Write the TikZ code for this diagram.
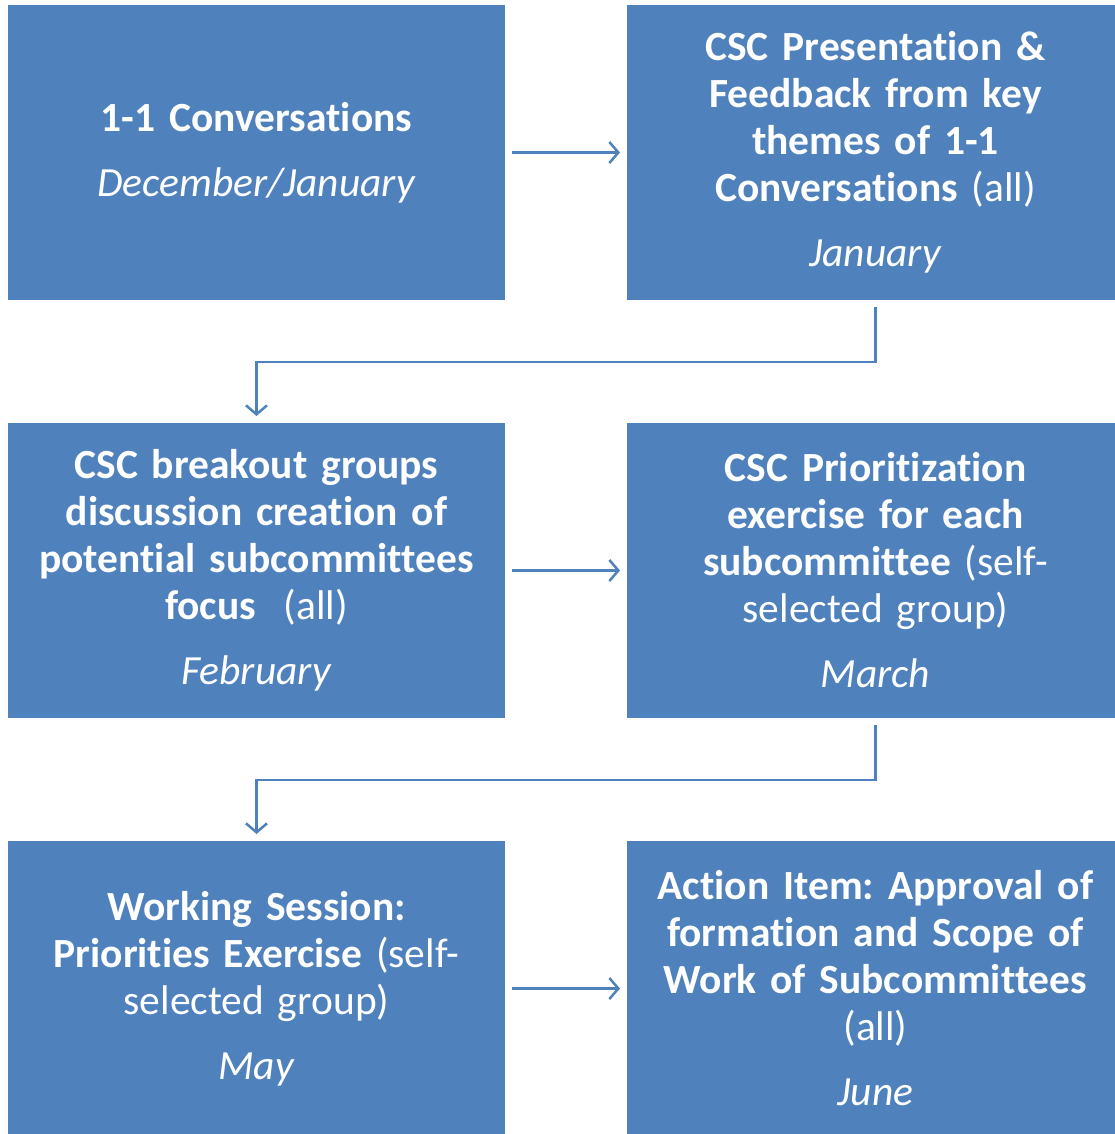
\documentclass[tikz,border=0pt]{standalone}
\usepackage{fontspec}
\setmainfont{Carlito}[Ligatures=NoCommon]
\usepackage{tikz}
\usetikzlibrary{positioning,arrows.meta}
\frenchspacing

\definecolor{boxblue}{HTML}{4F81BD}

\tikzset{
  stagebox/.style={fill=boxblue, text=white, minimum width=497pt, minimum height=295pt,
    text width=490pt, align=center, inner sep=0pt, outer sep=7pt,
    font=\fontsize{41.5}{47}\selectfont},
  flow/.style={draw=boxblue, line width=2.5pt, -{Straight Barb[length=9pt,width=21pt]}}
}

\begin{document}
\begin{tikzpicture}
      \useasboundingbox (0,0) rectangle (1115pt,-1134pt);

      \node[stagebox] (1) at (256.5pt,-152.5pt) {\textbf{1-1 Conversations}\\[18pt]\textit{December/January}};
      \node[stagebox] (2) [right=108pt of 1] {\textbf{CSC Presentation \&}\\\textbf{Feedback from key}\\\textbf{themes of 1-1}\\\textbf{Conversations} (all)\\[18pt]\textit{January}};
      \node[stagebox] (3) [below=109pt of 1] {\textbf{CSC breakout groups}\\\textbf{discussion creation of}\\\textbf{potential subcommittees}\\\textbf{focus}~~(all)\\[18pt]\textit{February}};
      \node[stagebox] (4) [right=108pt of 3] {\textbf{CSC Prioritization}\\\textbf{exercise for each}\\\textbf{subcommittee} (self-\\selected group)\\[18pt]\textit{March}};
      \node[stagebox] (5) [below=109pt of 3] {\textbf{Working Session:}\\\textbf{Priorities Exercise} (self-\\selected group)\\[18pt]\textit{May}};
      \node[stagebox] (6) [right=108pt of 5] {\textbf{Action Item: Approval of}\\\textbf{formation and Scope of}\\\textbf{Work of Subcommittees}\\(all)\\[18pt]\textit{June}};

      \draw[flow] (1) -- (2);
      \draw[flow] (2.south) -- ++(0,-55pt) -| (3.north);
      \draw[flow] (3) -- (4);
      \draw[flow] (4.south) -- ++(0,-55pt) -| (5.north);
      \draw[flow] (5) -- (6);

    \end{tikzpicture}
\end{document}
